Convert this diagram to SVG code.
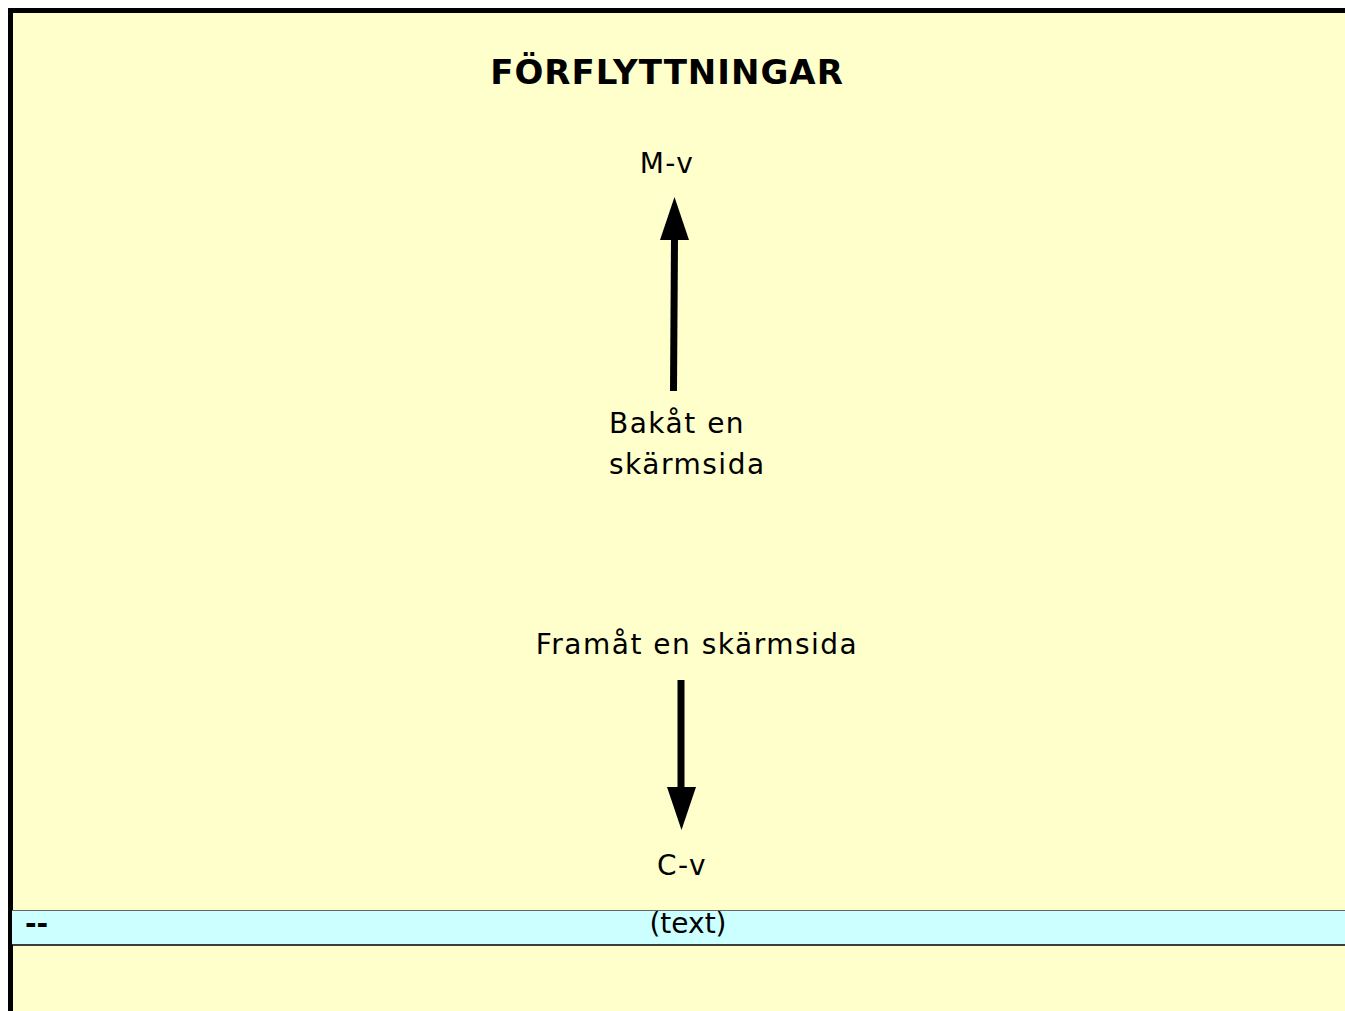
<svg xmlns="http://www.w3.org/2000/svg" width="1345" height="1011" viewBox="0 0 1345 1011">
<style>
.t{font-family:"DejaVu Sans","Liberation Sans",sans-serif;font-size:28px;letter-spacing:1.5px;fill:#000}
.title{font-family:"DejaVu Sans","Liberation Sans",sans-serif;font-size:34px;font-weight:bold;letter-spacing:1px;fill:#000}
.shaft{stroke:#000;stroke-width:7;fill:none}
.head{fill:#000}
</style>
<rect x="0" y="0" width="1345" height="1011" fill="#ffffff"/>
<g id="frame">
<rect x="10.5" y="10.5" width="1345" height="1011" fill="#ffffcc" stroke="#000" stroke-width="5"/>
</g>
<g id="title"><text class="title" x="667" y="84" text-anchor="middle">FÖRFLYTTNINGAR</text></g>
<g id="node-mv"><text class="t" x="667" y="173" text-anchor="middle">M-v</text></g>
<g id="node-bakat"><text class="t" x="609" y="433">Bakåt en</text><text class="t" x="609" y="474">skärmsida</text></g>
<g id="node-framat"><text class="t" x="697" y="654" text-anchor="middle">Framåt en skärmsida</text></g>
<g id="node-cv"><text class="t" x="682" y="875" text-anchor="middle">C-v</text></g>
<g id="connectors">
<line class="shaft" x1="673.5" y1="391" x2="674.5" y2="238"/>
<polygon class="head" points="674.5,197 660,240 689,240"/>
<line class="shaft" x1="681" y1="680" x2="681" y2="790"/>
<polygon class="head" points="667,787 696,787 681.5,830"/>
</g>
<g id="statusbar">
<rect x="12" y="910.5" width="1340" height="34.5" fill="#ccffff"/>
<line x1="12" y1="910.5" x2="1345" y2="910.5" stroke="#666" stroke-width="1"/>
<line x1="12" y1="945" x2="1345" y2="945" stroke="#000" stroke-width="1.5"/>
<text class="t" x="25" y="933" style="font-size:28px;letter-spacing:0;font-weight:bold">--</text>
<text class="t" x="688" y="933" text-anchor="middle" style="letter-spacing:0">(text)</text>
</g>
</svg>
